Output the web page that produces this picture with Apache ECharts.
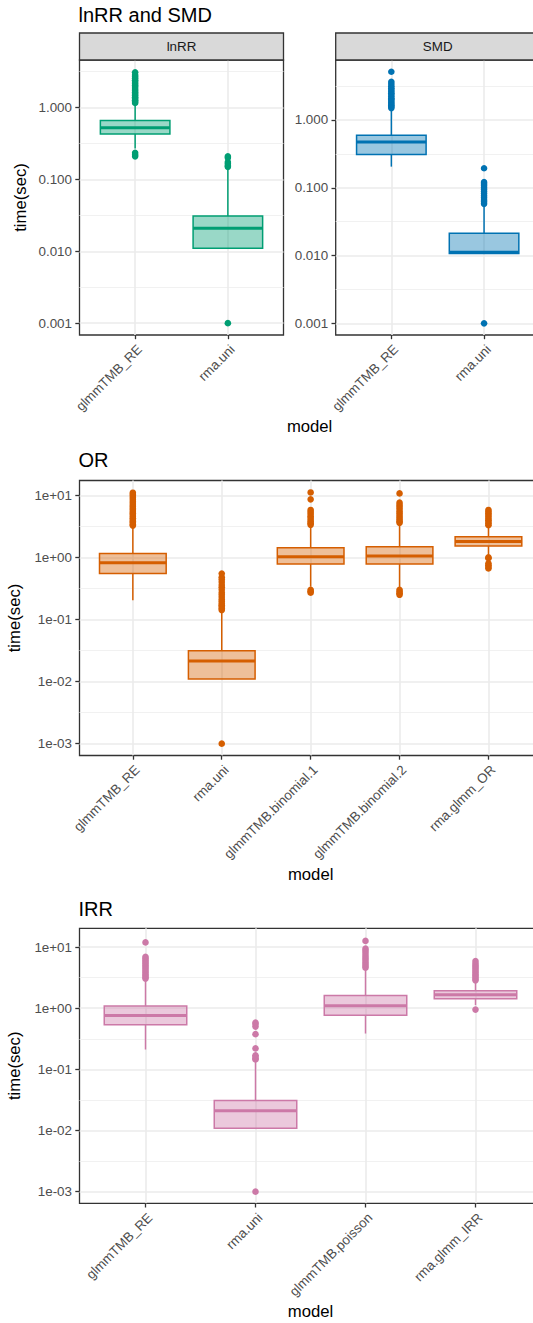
<!DOCTYPE html>
<html>
<head>
<meta charset="utf-8">
<script src="https://cdn.jsdelivr.net/npm/echarts@6/dist/echarts.min.js"></script>
<style>
html,body{margin:0;padding:0;background:#ffffff;}
#chart{width:533px;height:1323px;}
</style>
</head>
<body>
<div id="chart"></div>
<script>
// ---------------- DATA (time in seconds) ----------------
// box stats per model: [lower whisker, Q1, median, Q3, upper whisker]
const lnrrModels = ['glmmTMB_RE', 'rma.uni'];
const lnrrBoxes = [
  [0.27, 0.43, 0.525, 0.66, 1.12],
  [0.011, 0.011, 0.021, 0.031, 0.145]
];
const lnrrOutliers = [
  [0.21, 0.22, 0.235, 1.16, 1.21, 1.27, 1.33, 1.4, 1.47, 1.55, 1.63, 1.72, 1.82, 1.93, 2.04, 2.15, 2.27, 2.4, 2.55, 2.7, 2.85, 3.1],
  [0.001, 0.15, 0.155, 0.165, 0.175, 0.2, 0.21]
];

const smdModels = ['glmmTMB_RE', 'rma.uni'];
const smdBoxes = [
  [0.205, 0.31, 0.475, 0.595, 1.42],
  [0.0107, 0.0107, 0.0112, 0.0213, 0.053]
];
const smdOutliers = [
  [1.5, 1.57, 1.64, 1.72, 1.8, 1.9, 2.0, 2.1, 2.22, 2.35, 2.48, 2.62, 2.78, 2.95, 3.15, 3.4, 3.65, 5.15],
  [0.001, 0.058, 0.062, 0.066, 0.071, 0.076, 0.082, 0.088, 0.094, 0.1, 0.107, 0.114, 0.121, 0.194]
];

const orModels = ['glmmTMB_RE', 'rma.uni', 'glmmTMB.binomial.1', 'glmmTMB.binomial.2', 'rma.glmm_OR'];
const orBoxes = [
  [0.205, 0.552, 0.82, 1.16, 3.1],
  [0.011, 0.011, 0.0214, 0.0314, 0.135],
  [0.337, 0.78, 1.025, 1.43, 3.2],
  [0.33, 0.78, 1.05, 1.49, 3.45],
  [1.09, 1.52, 1.8, 2.15, 3.1]
];
const orOutliers = [
  [3.25, 3.4, 3.6, 3.8, 4.0, 4.25, 4.5, 4.8, 5.1, 5.4, 5.8, 6.2, 6.6, 7.0, 7.5, 8.0, 8.6, 9.2, 9.8, 10.4, 11.0],
  [0.001, 0.142, 0.15, 0.16, 0.17, 0.18, 0.195, 0.21, 0.23, 0.25, 0.27, 0.3, 0.33, 0.36, 0.4, 0.44, 0.48, 0.55],
  [0.27, 0.285, 0.3, 3.35, 3.55, 3.75, 4.0, 4.3, 4.6, 5.0, 5.4, 5.8, 8.6, 11.1],
  [0.25, 0.265, 0.28, 0.3, 3.6, 3.8, 4.05, 4.35, 4.7, 5.1, 5.5, 6.0, 6.5, 7.0, 7.6, 10.7],
  [0.665, 0.7, 0.75, 0.8, 0.97, 1.0, 3.3, 3.5, 3.7, 3.95, 4.2, 4.5, 4.8, 5.1, 5.45, 5.8]
];

const irrModels = ['glmmTMB_RE', 'rma.uni', 'glmmTMB.poisson', 'rma.glmm_IRR'];
const irrBoxes = [
  [0.211, 0.534, 0.76, 1.09, 2.87],
  [0.0109, 0.0109, 0.021, 0.031, 0.133],
  [0.385, 0.77, 1.1, 1.61, 4.3],
  [1.12, 1.42, 1.66, 1.93, 2.7]
];
const irrOutliers = [
  [3.05, 3.2, 3.4, 3.6, 3.85, 4.1, 4.4, 4.7, 5.0, 5.35, 5.7, 6.1, 6.5, 6.9, 11.9],
  [0.001, 0.145, 0.15, 0.16, 0.17, 0.22, 0.376, 0.5, 0.55, 0.58],
  [4.6, 4.9, 5.3, 5.7, 6.2, 6.7, 7.3, 8.0, 8.7, 9.4, 12.6],
  [0.95, 2.85, 3.0, 3.2, 3.4, 3.6, 3.85, 4.1, 4.4, 4.7, 5.0, 5.4, 5.9]
];

// tick labels (log10 scale)
const decimalTickExps = [-3, -2, -1, 0];
const decimalTickLabels = ['0.001', '0.010', '0.100', '1.000'];
const sciTickExps = [-3, -2, -1, 0, 1];
const sciTickLabels = ['1e-03', '1e-02', '1e-01', '1e+00', '1e+01'];
const minorTickExps = [-2.5, -1.5, -0.5, 0.5];

// ---------------- LAYOUT / STYLE ----------------
const FONT = "'Liberation Sans', Arial, Helvetica, sans-serif";
const AXIS_FS = 13.4, NAME_FS = 16.7, TITLE_FS = 20;

const panels = [
  { models: lnrrModels, boxes: lnrrBoxes, outliers: lnrrOutliers, color: '#009E73', fill: 'rgba(0,158,115,0.4)',
    left: 79.5, top: 60, width: 204, height: 275, ymin: -3.165, ymax: 0.663,
    ticks: decimalTickExps, tickLabels: decimalTickLabels, yName: 'time(sec)', xName: '', xGap: 0 },
  { models: smdModels, boxes: smdBoxes, outliers: smdOutliers, color: '#0072B2', fill: 'rgba(0,114,178,0.4)',
    left: 335.7, top: 60, width: 204, height: 275, ymin: -3.172, ymax: 0.885,
    ticks: decimalTickExps, tickLabels: decimalTickLabels, yName: '', xName: '', xGap: 0 },
  { models: orModels, boxes: orBoxes, outliers: orOutliers, color: '#D55E00', fill: 'rgba(213,94,0,0.4)',
    left: 79.5, top: 480.5, width: 462.3, height: 275, ymin: -3.19, ymax: 1.238,
    ticks: sciTickExps, tickLabels: sciTickLabels, yName: 'time(sec)', xName: 'model', xGap: 110 },
  { models: irrModels, boxes: irrBoxes, outliers: irrOutliers, color: '#CC79A7', fill: 'rgba(204,121,167,0.4)',
    left: 79.5, top: 928.3, width: 462, height: 275, ymin: -3.19, ymax: 1.306,
    ticks: sciTickExps, tickLabels: sciTickLabels, yName: 'time(sec)', xName: 'model', xGap: 100 }
];

const grids = [], xAxes = [], yAxes = [], series = [];

panels.forEach((p, gi) => {
  const catPos = p.models.map((_, i) => i + 1);
  grids.push({
    left: p.left, top: p.top, width: p.width, height: p.height,
    show: true, backgroundColor: '#ffffff', borderColor: '#333333', borderWidth: 1.3,
    containLabel: false, outerBoundsMode: 'none'
  });
  xAxes.push({
    type: 'value', gridIndex: gi, min: 0.4, max: p.models.length + 0.6, position: 'bottom',
    axisLine: { show: false, onZero: false },
    axisTick: { show: true, customValues: catPos, length: 4.2, lineStyle: { color: '#333333', width: 1.3 } },
    axisLabel: {
      show: true, customValues: catPos, rotate: 45, align: 'right', verticalAlign: 'top', margin: 7.5,
      fontSize: AXIS_FS, fontFamily: FONT, color: '#4D4D4D',
      formatter: v => p.models[Math.round(v) - 1] || ''
    },
    splitLine: { show: true, lineStyle: { color: '#EBEBEB', width: 1.6 } },
    name: p.xName, nameLocation: 'middle', nameGap: p.xGap,
    nameTextStyle: { fontSize: NAME_FS, fontFamily: FONT, color: '#000000' }
  });
  // major y axis
  yAxes.push({
    type: 'value', gridIndex: gi, min: p.ymin, max: p.ymax, position: 'left',
    axisLine: { show: false, onZero: false },
    axisTick: { show: true, customValues: p.ticks, length: 4.2, lineStyle: { color: '#333333', width: 1.3 } },
    axisLabel: {
      show: true, customValues: p.ticks, margin: 7.5,
      fontSize: AXIS_FS, fontFamily: FONT, color: '#4D4D4D',
      formatter: v => p.tickLabels[p.ticks.indexOf(Math.round(v))]
    },
    splitLine: { show: true, lineStyle: { color: '#EBEBEB', width: 1.6 } },
    name: p.yName, nameLocation: 'middle', nameGap: 51, nameRotate: 90,
    nameTextStyle: { fontSize: NAME_FS, fontFamily: FONT, color: '#000000' }
  });
  // minor gridline axis
  yAxes.push({
    type: 'value', gridIndex: gi, min: p.ymin, max: p.ymax, position: 'left',
    axisLine: { show: false, onZero: false },
    axisTick: { show: false, customValues: minorTickExps },
    axisLabel: { show: false, customValues: minorTickExps },
    splitLine: { show: true, lineStyle: { color: '#EFEFEF', width: 0.9 } }
  });

  const outData = [];
  p.outliers.forEach((arr, i) => arr.forEach(v => outData.push([i + 1, Math.log10(v)])));
  series.push({
    type: 'scatter', xAxisIndex: gi, yAxisIndex: gi * 2, data: outData,
    symbol: 'circle', symbolSize: 6.6, itemStyle: { color: p.color, opacity: 1 }, z: 2, silent: true
  });

  series.push({
    type: 'custom', xAxisIndex: gi, yAxisIndex: gi * 2, z: 3, silent: true,
    encode: { x: 0, y: [1, 2, 3, 4, 5] },
    data: p.boxes.map((b, i) => [i + 1].concat(b.map(v => Math.log10(v)))),
    renderItem: function (params, api) {
      const x = api.value(0);
      const lo = api.value(1), q1 = api.value(2), med = api.value(3), q3 = api.value(4), hi = api.value(5);
      const half = 0.375;
      const pHi = api.coord([x, hi]), pQ3 = api.coord([x, q3]);
      const pQ1 = api.coord([x, q1]), pLo = api.coord([x, lo]);
      const a = api.coord([x - half, q3]), b = api.coord([x + half, q1]);
      const mA = api.coord([x - half, med]), mB = api.coord([x + half, med]);
      return {
        type: 'group',
        children: [
          { type: 'line', shape: { x1: pHi[0], y1: pHi[1], x2: pQ3[0], y2: pQ3[1] }, style: { stroke: p.color, lineWidth: 1.5 } },
          { type: 'line', shape: { x1: pQ1[0], y1: pQ1[1], x2: pLo[0], y2: pLo[1] }, style: { stroke: p.color, lineWidth: 1.5 } },
          { type: 'rect', shape: { x: a[0], y: a[1], width: b[0] - a[0], height: b[1] - a[1] }, style: { fill: p.fill, stroke: p.color, lineWidth: 1.5 } },
          { type: 'line', shape: { x1: mA[0], y1: mA[1], x2: mB[0], y2: mB[1] }, style: { stroke: p.color, lineWidth: 3 } }
        ]
      };
    }
  });
});

const titleStyle = { fontSize: TITLE_FS, fontWeight: 'normal', fontFamily: FONT, color: '#000000' };
const titles = [
  { text: 'lnRR and SMD', left: 78.5, top: 4.5, padding: 0, textStyle: titleStyle },
  { text: 'OR', left: 78.5, top: 450.2, padding: 0, textStyle: titleStyle },
  { text: 'IRR', left: 78.5, top: 899, padding: 0, textStyle: titleStyle }
];

const stripTexts = ['lnRR', 'SMD'];
const graphics = [];
[0, 1].forEach(i => {
  const p = panels[i];
  graphics.push({
    type: 'rect', silent: true, z: 10,
    shape: { x: p.left, y: 33, width: p.width, height: 27 },
    style: { fill: '#D9D9D9', stroke: '#333333', lineWidth: 1.3 }
  });
  graphics.push({
    type: 'text', silent: true, z: 11, x: p.left + p.width / 2, y: 46.5,
    style: { text: stripTexts[i], fill: '#1A1A1A', font: AXIS_FS + 'px ' + FONT,
             align: 'center', verticalAlign: 'middle', textAlign: 'center', textVerticalAlign: 'middle' }
  });
});
graphics.push({
  type: 'text', silent: true, z: 11, x: (panels[0].left + panels[1].left + panels[1].width) / 2, y: 426.5,
  style: { text: 'model', fill: '#000000', font: NAME_FS + 'px ' + FONT,
           align: 'center', verticalAlign: 'middle', textAlign: 'center', textVerticalAlign: 'middle' }
});

const chart = echarts.init(document.getElementById('chart'), null, { renderer: 'svg', width: 533, height: 1323 });
chart.setOption({
  animation: false,
  backgroundColor: '#ffffff',
  title: titles,
  grid: grids,
  xAxis: xAxes,
  yAxis: yAxes,
  series: series,
  graphic: graphics
});
</script>
</body>
</html>
